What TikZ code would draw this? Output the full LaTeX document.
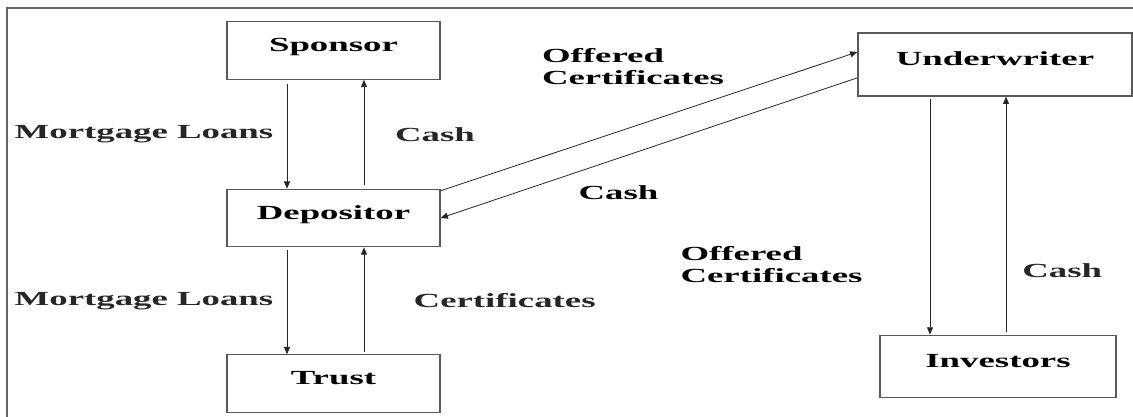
\documentclass[tikz,border=0pt]{standalone}
\usepackage{fontspec}
\setmainfont{Liberation Serif}[FakeStretch=1.84]
\usepackage{tikz}
\usetikzlibrary{arrows.meta, positioning, calc}
\newcommand{\lblsize}{\fontsize{15}{16.5}\selectfont}

\begin{document}
\begin{tikzpicture}[
  x=0.75pt, y=-0.75pt,
  box/.style={draw=black!65, line width=0.9pt, minimum width=159.75pt, minimum height=43pt,
              inner sep=0pt, text height=10pt, text depth=8pt, font=\lblsize\bfseries},
  arr/.style={-{Triangle[length=5.5pt, width=4.5pt]}, line width=0.6pt, black!85},
  lbl/.style={font=\lblsize\bfseries, inner sep=0pt, align=left},
  frame/.style={draw=black!60, line width=1.2pt}
]
  \useasboundingbox (0,0) rectangle (1133,417);
  \draw[frame] (7,417) -- (7,8) -- (1133,8);

  \node[box] (sponsor) at (333.5,50.5) {Sponsor};
  \node[box, below=81.75pt of sponsor] (depositor) {Depositor};
  \node[box, below=80.25pt of depositor] (trust) {Trust};

  \node[box, minimum width=205.5pt, minimum height=47.25pt] (underwriter) at (995,64.5) {Underwriter};
  \node[box, minimum width=177pt, minimum height=46.5pt, below=178.5pt of underwriter, xshift=2.25pt] (investors) {Investors};

  \coordinate (xa) at (287,0);
  \coordinate (xb) at (364,0);
  \coordinate (xc) at (930,0);
  \coordinate (xd) at (1006,0);

  \draw[arr, shorten <=3pt] (sponsor.south -| xa) -- node[lbl, left=10pt]{Mortgage Loans} (depositor.north -| xa);
  \draw[arr, shorten <=3pt] (depositor.north -| xb) -- node[lbl, right=23pt]{Cash} (sponsor.south -| xb);
  \draw[arr, shorten <=2pt] (depositor.south -| xa) -- node[lbl, left=10pt]{Mortgage Loans} (trust.north -| xa);
  \draw[arr, shorten <=2pt] (trust.north -| xb) -- node[lbl, right=37pt]{Certificates} (depositor.south -| xb);

  \draw[arr] ([yshift=-1.5pt]depositor.north east) -- ([yshift=9.4pt]underwriter.west);
  \draw[arr] ([yshift=-10pt]underwriter.west) -- (depositor.east);
  \node[lbl] (offerup) at (633,67) {Offered\\Certificates};
  \node[lbl] (cashmid) at (618.5,193) {Cash};

  \draw[arr, shorten <=1.5pt] (underwriter.south -| xc) -- (investors.north -| xc);
  \draw[arr, shorten <=2pt] (investors.north -| xd) -- node[lbl, pos=0.27, right=12pt]{Cash} (underwriter.south -| xd);
  \node[lbl] (offerdown) at (771.5,265) {Offered\\Certificates};
\end{tikzpicture}
\end{document}
